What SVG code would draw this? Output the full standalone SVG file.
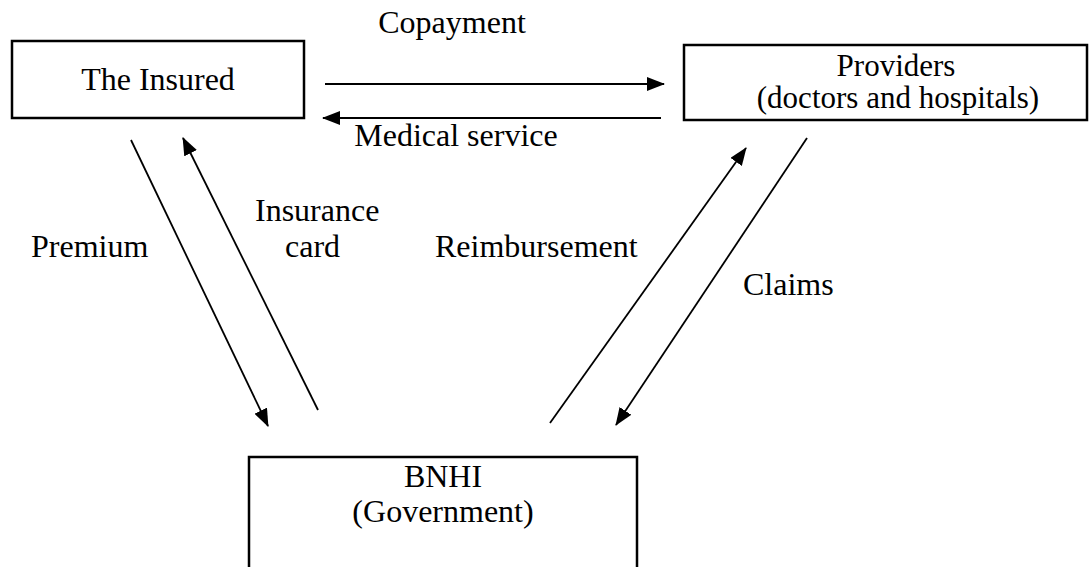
<svg xmlns="http://www.w3.org/2000/svg" width="1089" height="567" viewBox="0 0 1089 567">
<style>
.box{fill:#fff;stroke:#000;stroke-width:2.5}
.t{font-family:"Liberation Serif","Times New Roman",serif;font-size:32px;fill:#000}
.s{font-size:31px}
.c{text-anchor:middle}
.ln{stroke:#000;stroke-width:1.8;fill:none}
.lh{stroke:#000;stroke-width:2.2;fill:none}
</style>
<defs>
<marker id="ah" markerUnits="userSpaceOnUse" markerWidth="18" markerHeight="14" viewBox="0 0 18 14" refX="17" refY="7" orient="auto">
<path d="M0,0 L18,7 L0,14 z" fill="#000"/>
</marker>
</defs>
<rect width="1089" height="567" fill="#fff"/>
<g id="insured">
<rect class="box" x="12" y="41" width="292" height="77"/>
<text class="t c" x="158" y="90">The Insured</text>
</g>
<g id="providers">
<rect class="box" x="684" y="45" width="403" height="75"/>
<text class="t s c" x="896" y="76">Providers</text>
<text class="t s c" x="898" y="108">(doctors and hospitals)</text>
</g>
<g id="bnhi">
<rect class="box" x="249" y="457" width="388" height="120"/>
<text class="t c" x="443" y="487">BNHI</text>
<text class="t c" x="443" y="522">(Government)</text>
</g>
<g id="connectors">
<line class="lh" x1="325" y1="84" x2="664" y2="84" marker-end="url(#ah)"/>
<line class="lh" x1="661" y1="118" x2="323" y2="118" marker-end="url(#ah)"/>
<line class="ln" x1="131" y1="140" x2="268" y2="426" marker-end="url(#ah)"/>
<line class="ln" x1="318" y1="410" x2="183" y2="138" marker-end="url(#ah)"/>
<line class="ln" x1="550" y1="423" x2="746" y2="148" marker-end="url(#ah)"/>
<line class="ln" x1="807" y1="138" x2="616" y2="425" marker-end="url(#ah)"/>
</g>
<g id="labels">
<text class="t c" x="452" y="33">Copayment</text>
<text class="t c" x="456" y="146">Medical service</text>
<text class="t" x="31" y="257">Premium</text>
<text class="t" x="255" y="221">Insurance</text>
<text class="t" x="285" y="257">card</text>
<text class="t" x="435" y="257">Reimbursement</text>
<text class="t" x="743" y="295">Claims</text>
</g>
</svg>
